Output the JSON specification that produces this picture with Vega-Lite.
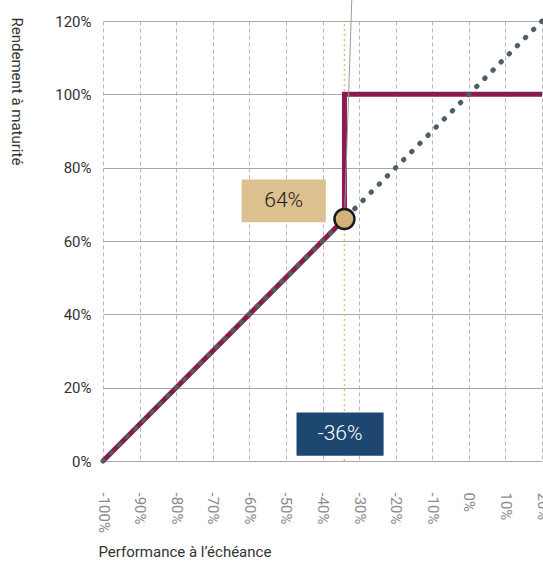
{
  "$schema": "https://vega.github.io/schema/vega-lite/v6.json",
  "autosize": "none",
  "width": 439,
  "height": 440,
  "padding": {"left": 103, "top": 21, "right": 1, "bottom": 103},
  "background": "white",
  "config": {
    "view": {"stroke": null},
    "font": "Roboto"
  },
  "datasets": {
    "capped": [
      {"i": 0, "perf": -100, "ret": 0},
      {"i": 1, "perf": -34, "ret": 66},
      {"i": 2, "perf": -34, "ret": 100},
      {"i": 3, "perf": 20, "ret": 100}
    ],
    "direct": [
      {"i": 0, "perf": -100, "ret": 0},
      {"i": 1, "perf": 20, "ret": 120}
    ],
    "leader": [
      {"i": 0, "perf": -34, "ret": 66},
      {"i": 1, "perf": -32, "ret": 125.7}
    ],
    "barrier": [{"perf": -34, "ret0": 0, "ret1": 120}],
    "point": [{"perf": -34, "ret": 66}],
    "boxes": [
      {"label": "64%", "x0": -62.1, "x1": -39.1, "y0": 65.1, "y1": 76.8, "xc": -50.6, "yc": 71, "kind": "ret"},
      {"label": "-36%", "x0": -47.1, "x1": -23.3, "y0": 1.4, "y1": 13.2, "xc": -35.2, "yc": 7.3, "kind": "perf"}
    ]
  },
  "layer": [
    {
      "data": {"name": "barrier"},
      "mark": {"type": "rule", "color": "#d8c27a", "strokeWidth": 1.5, "strokeDash": [2, 3]},
      "encoding": {
        "x": {
          "field": "perf", "type": "quantitative",
          "scale": {"domain": [-100, 20], "nice": false, "zero": false},
          "axis": {
            "values": [-100, -90, -80, -70, -60, -50, -40, -30, -20, -10, 0, 10, 20],
            "tickCount": 30,
            "labelExpr": "datum.value + '%'",
            "labelOverlap": false,
            "labelAngle": 90,
            "labelAlign": "left",
            "labelBaseline": "middle",
            "labelPadding": 31,
            "labelFontSize": 15,
            "labelColor": "#8a8a8a",
            "labelFont": "Roboto",
            "ticks": false,
            "domain": false,
            "grid": true,
            "gridColor": "#b5b5b5",
            "gridDash": [4, 3],
            "gridWidth": 1,
            "title": "Performance à l’échéance",
            "titleFont": "Roboto",
            "titleFontSize": 15,
            "titleFontWeight": "normal",
            "titleColor": "#333333",
            "titleAlign": "left",
            "titleBaseline": "middle",
            "titleAnchor": "start",
            "titleX": -5,
            "titleY": 90
          }
        },
        "y": {
          "field": "ret0", "type": "quantitative",
          "scale": {"domain": [0, 120], "nice": false},
          "axis": {
            "values": [0, 20, 40, 60, 80, 100, 120],
            "tickCount": 20,
            "labelExpr": "datum.value + '%'",
            "labelOverlap": false,
            "labelFontSize": 15,
            "labelColor": "#333333",
            "labelFont": "Roboto",
            "labelPadding": 12,
            "ticks": false,
            "domain": false,
            "grid": true,
            "gridColor": "#a8a8a8",
            "gridWidth": 1,
            "title": "Rendement à maturité",
            "titleFont": "Roboto",
            "titleFontSize": 15,
            "titleFontWeight": "normal",
            "titleColor": "#333333",
            "titleAngle": 90,
            "titleAlign": "left",
            "titleBaseline": "middle",
            "titleX": -87,
            "titleY": -4
          }
        },
        "y2": {"field": "ret1"}
      }
    },
    {
      "data": {"name": "capped"},
      "mark": {"type": "line", "color": "#8b1a4e", "strokeWidth": 5, "strokeJoin": "miter", "strokeCap": "butt"},
      "encoding": {
        "x": {"field": "perf", "type": "quantitative"},
        "y": {"field": "ret", "type": "quantitative"},
        "order": {"field": "i"}
      }
    },
    {
      "data": {"name": "direct"},
      "mark": {"type": "line", "color": "#4f5d69", "strokeWidth": 5, "strokeDash": [0.5, 11], "strokeCap": "round"},
      "encoding": {
        "x": {"field": "perf", "type": "quantitative"},
        "y": {"field": "ret", "type": "quantitative"},
        "order": {"field": "i"}
      }
    },
    {
      "data": {"name": "leader"},
      "mark": {"type": "line", "color": "#9a9a9a", "strokeWidth": 1, "clip": false},
      "encoding": {
        "x": {"field": "perf", "type": "quantitative"},
        "y": {"field": "ret", "type": "quantitative"},
        "order": {"field": "i"}
      }
    },
    {
      "data": {"name": "point"},
      "mark": {"type": "point", "filled": true, "fill": "#d4b07a", "stroke": "#1a1a1a", "strokeWidth": 2.5, "size": 400, "opacity": 1},
      "encoding": {
        "x": {"field": "perf", "type": "quantitative"},
        "y": {"field": "ret", "type": "quantitative"}
      }
    },
    {
      "data": {"name": "boxes"},
      "mark": {"type": "rect"},
      "encoding": {
        "x": {"field": "x0", "type": "quantitative"},
        "x2": {"field": "x1"},
        "y": {"field": "y0", "type": "quantitative"},
        "y2": {"field": "y1"},
        "color": {
          "field": "kind", "type": "nominal",
          "scale": {"domain": ["ret", "perf"], "range": ["#dcc090", "#1d4670"]},
          "legend": null
        }
      }
    },
    {
      "data": {"name": "boxes"},
      "mark": {"type": "text", "font": "Roboto", "fontWeight": 300, "fontSize": 21, "align": "center", "baseline": "middle"},
      "encoding": {
        "x": {"field": "xc", "type": "quantitative"},
        "y": {"field": "yc", "type": "quantitative"},
        "text": {"field": "label"},
        "color": {
          "field": "kind", "type": "nominal",
          "scale": {"domain": ["ret", "perf"], "range": ["#1a1a1a", "#ffffff"]},
          "legend": null
        }
      }
    }
  ],
  "resolve": {"scale": {"color": "independent"}}
}
